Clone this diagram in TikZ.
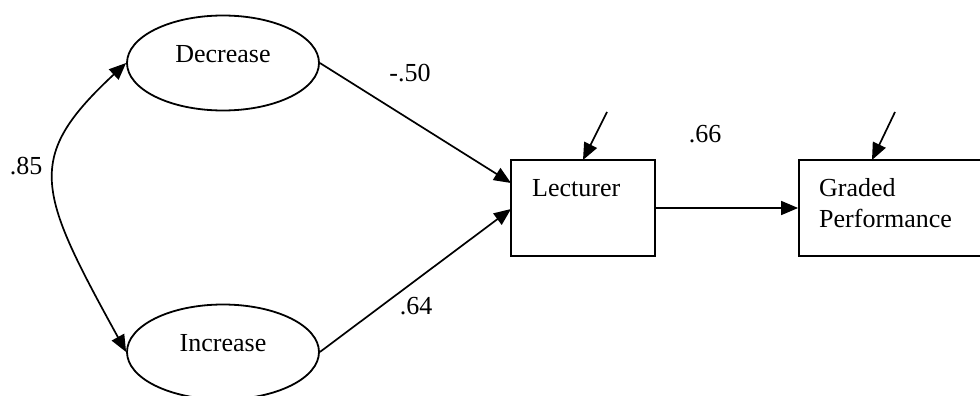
\documentclass[tikz,border=0pt]{standalone}
\usepackage{fontspec}
\setmainfont{Liberation Serif}
\usetikzlibrary{arrows.meta,shapes.geometric}
\tikzset{
  latent/.style={draw, ellipse, line width=1.8pt, minimum width=192pt, minimum height=95pt, inner sep=0pt},
  observed/.style={draw, rectangle, line width=1.8pt, minimum height=96pt, inner sep=0pt},
  txt/.style={inner sep=0pt, font=\fontsize{26}{31}\selectfont},
  coef/.style={inner sep=0pt, font=\fontsize{26}{31}\selectfont},
  path/.style={line width=1.7pt, -{Triangle[length=17pt,width=14pt]}},
  cov/.style={line width=1.7pt, {Triangle[length=17pt,width=14pt]}-{Triangle[length=17pt,width=14pt]}},
}
\begin{document}
\begin{tikzpicture}[x=1pt,y=-1pt]
\clip (0,0) rectangle (980,396);
\fill[white] (0,0) rectangle (980,396);
% latent variables
\node[latent] (dec) at (223,63) {};
\node[txt] (dect) at (223,54) {Decrease};
\node[latent] (inc) at (223,352) {};
\node[txt] (inct) at (223,343) {Increase};
% observed
\node[observed, minimum width=144pt] (lec) at (583,208) {};
\node[txt, anchor=west] (lect) at (532,188) {Lecturer};
\node[observed, minimum width=200pt] (gp) at (899,208) {};
\node[txt, anchor=west, align=left] (gpt1) at (819,188) {Graded};
\node[txt, anchor=west, align=left] (gpt2) at (819,218) {Performance};
% error coordinates
\coordinate (e1) at (607,112);
\coordinate (e2) at (895,112);
\coordinate (lecA) at (511,183);
\coordinate (lecB) at (511,209);
\coordinate (lecTop) at (583,160);
\coordinate (gpTop) at (872,160);
% paths
\draw[path] (dec.east) -- (lecA);
\draw[path] (inc.east) -- (lecB);
\draw[path] (lec.east) -- (gp.west);
\draw[path] (e1) -- (lecTop);
\draw[path] (e2) -- (gpTop);
\draw[cov] (dec.west) .. controls (24,158) and (37,190) .. (inc.west);
% coefficients
\node[coef] (c1) at (410,73) {-.50};
\node[coef] (c2) at (416,306) {.64};
\node[coef] (c3) at (705,134) {.66};
\node[coef] (c4) at (26,166) {.85};
\end{tikzpicture}
\end{document}
